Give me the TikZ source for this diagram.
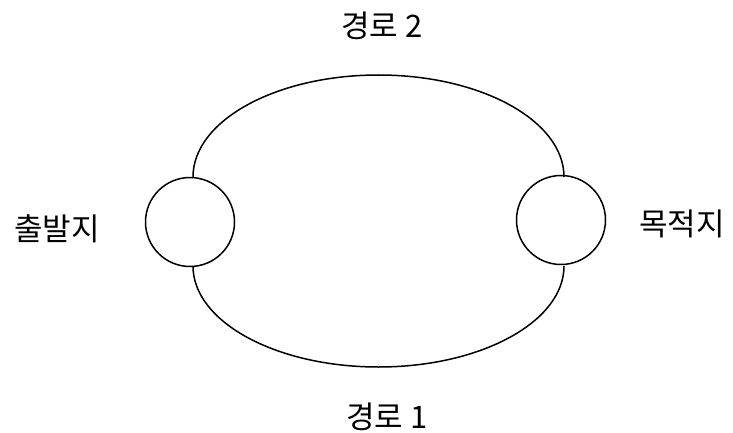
\documentclass[tikz,border=0pt]{standalone}
\usepackage{fontspec}
\newfontfamily\kr{Noto Sans CJK KR}
\begin{document}
\begin{tikzpicture}[x=1pt,y=1pt,
  place/.style={draw,circle,line width=1.5pt,minimum size=89pt,inner sep=0pt},
  route/.style={draw,line width=1.5pt},
  lbl/.style={font=\kr\fontsize{31}{34}\selectfont,inner sep=0pt}]
\useasboundingbox (0,0) rectangle (733,432);
\node[place] (src) at (190,210) {};
\node[place] (dst) at (561,212) {};
\coordinate (a) at (193,255);
\coordinate (b) at (193,166);
\draw[route] (a) arc[start angle=180,end angle=0,x radius=185.5,y radius=102];
\draw[route] (b) arc[start angle=180,end angle=360,x radius=185.5,y radius=101];
\node[lbl] (r2) at (382,406) {경로 2};
\node[lbl] (r1) at (387,15) {경로 1};
\node[lbl] (s) at (57,203) {출발지};
\node[lbl] (d) at (682,208) {목적지};
\end{tikzpicture}
\end{document}
